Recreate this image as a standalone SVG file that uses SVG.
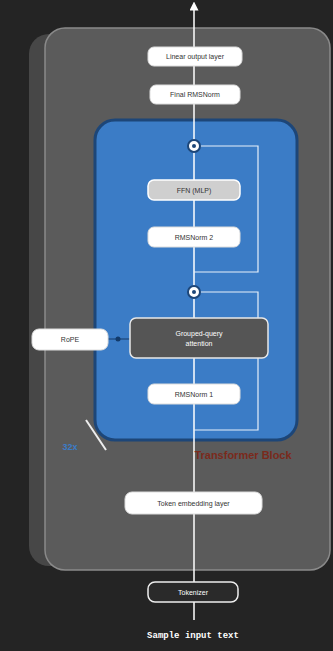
<svg xmlns="http://www.w3.org/2000/svg" width="333" height="651" viewBox="0 0 333 651">
<defs>
<style>
.lbl{font-family:"Liberation Sans",Arial,sans-serif;font-size:7px;fill:#333;text-anchor:middle;dominant-baseline:central}
.wbox{fill:#fff;stroke:#ddd;stroke-width:1}
.line{stroke:#fff;stroke-width:1.5;fill:none}
.thin{stroke:#e8f0fa;stroke-width:1.2;fill:none}
</style>
<marker id="ah" viewBox="0 0 10 10" refX="5" refY="5" markerWidth="6" markerHeight="6" orient="auto">
<path d="M0,0 L10,5 L0,10 z" fill="#fff"/>
</marker>
</defs>
<rect width="333" height="651" fill="#242424"/>
<rect x="29" y="34" width="292" height="532" rx="20" fill="#474747"/>
<rect x="45" y="28" width="285" height="542" rx="20" fill="#5b5b5b" stroke="#8a8a8a" stroke-width="1.5"/>
<g id="block">
<rect x="95" y="120" width="202" height="320" rx="20" fill="#3b7cc6" stroke="#1d4678" stroke-width="3"/>
</g>
<g id="connectors">
<line class="line" x1="194" y1="620" x2="194" y2="6" marker-end="url(#ah)"/>
<polyline class="thin" points="200,146 258,146 258,272 194,272"/>
<polyline class="thin" points="200,292 258,292 258,430 194,430"/>
<line x1="108" y1="339" x2="130" y2="339" stroke="#1d4678" stroke-width="1.2"/>
<circle cx="118" cy="339" r="2.5" fill="#123a6a"/>
<line x1="86" y1="420" x2="106" y2="450" stroke="#eee" stroke-width="2"/>
</g>
<g id="linear"><rect class="wbox" x="148" y="47" width="94" height="19" rx="6"/><text class="lbl" x="195" y="56.5">Linear output layer</text></g>
<g id="finalnorm"><rect class="wbox" x="150" y="85" width="90" height="19" rx="6"/><text class="lbl" x="195" y="94.5">Final RMSNorm</text></g>
<g id="add2"><circle cx="194" cy="146" r="6" fill="#fff" stroke="#1d4678" stroke-width="2"/><circle cx="194" cy="146" r="2" fill="#1d4678"/></g>
<g id="ffn"><rect x="148" y="180" width="92" height="20" rx="6" fill="#cfcfcf" stroke="#fff" stroke-width="1.5"/><text class="lbl" x="194" y="190">FFN (MLP)</text></g>
<g id="norm2"><rect class="wbox" x="148" y="227" width="92" height="20" rx="6"/><text class="lbl" x="194" y="237">RMSNorm 2</text></g>
<g id="add1"><circle cx="194" cy="292" r="6" fill="#fff" stroke="#1d4678" stroke-width="2"/><circle cx="194" cy="292" r="2" fill="#1d4678"/></g>
<g id="gqa"><rect x="130" y="318" width="138" height="40" rx="6" fill="#555" stroke="#e8e8e8" stroke-width="1.5"/><text class="lbl" x="199" y="333" style="fill:#fff">Grouped-query</text><text class="lbl" x="199" y="343" style="fill:#fff">attention</text></g>
<g id="rope"><rect class="wbox" x="32" y="329" width="76" height="21" rx="7"/><text class="lbl" x="70" y="339.5">RoPE</text></g>
<g id="norm1"><rect class="wbox" x="148" y="384" width="92" height="20" rx="6"/><text class="lbl" x="194" y="394">RMSNorm 1</text></g>
<g id="label32"><text x="70" y="450" style="font-family:'Liberation Sans',Arial,sans-serif;font-size:9px;font-weight:bold;fill:#3b7cc6;text-anchor:middle">32x</text></g>
<g id="blocklabel"><text x="243" y="459" style="font-family:'Liberation Sans',Arial,sans-serif;font-size:11px;font-weight:bold;fill:#7a2a1c;text-anchor:middle">Transformer Block</text></g>
<g id="embed"><rect class="wbox" x="125" y="492" width="137" height="22" rx="7"/><text class="lbl" x="193.5" y="503">Token embedding layer</text></g>
<g id="tokenizer"><rect x="148" y="582" width="90" height="20" rx="7" fill="#2a2a2a" stroke="#eee" stroke-width="1.5"/><text class="lbl" x="193" y="592" style="fill:#fff">Tokenizer</text></g>
<g id="input"><text x="193" y="638" style="font-family:'Liberation Mono','Courier New',monospace;font-size:9px;font-weight:bold;fill:#fff;text-anchor:middle">Sample input text</text></g>
</svg>
